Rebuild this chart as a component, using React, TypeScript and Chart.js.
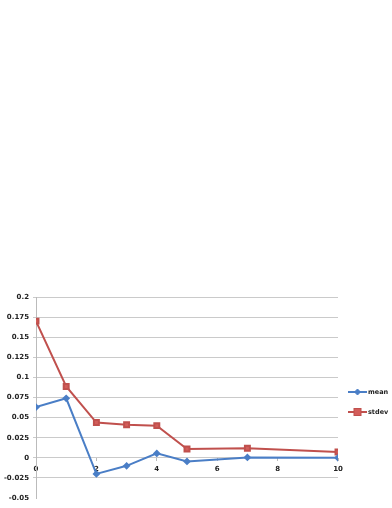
import React, { useEffect, useRef } from "react";
import { Chart, registerables } from "chart.js";

Chart.register(...registerables);

const xValues = [0, 1, 2, 3, 4, 5, 7, 10];
const meanValues = [0.063, 0.074, -0.02, -0.01, 0.0055, -0.0045, 0.0005, 0.0];
const stdevValues = [0.17, 0.0888, 0.0438, 0.041, 0.04, 0.011, 0.0118, 0.0072];
const seriesLabels = ["mean", "stdev"];

const BLUE = "#4A7EC6";
const RED = "#C0504D";
const FONT = "'DejaVu Sans', sans-serif";

const legendPlugin = {
  id: "customLegend",
  afterDraw(chart: any) {
    const ctx = chart.ctx;
    const left = chart.chartArea.right + 10;
    const ys = [392, 412];
    chart.data.datasets.forEach((ds: any, i: number) => {
      const y = ys[i];
      ctx.save();
      ctx.strokeStyle = ds.borderColor;
      ctx.lineWidth = 2;
      ctx.beginPath();
      ctx.moveTo(left, y);
      ctx.lineTo(left + 19, y);
      ctx.stroke();
      const cx = left + 9.5;
      ctx.fillStyle = ds.pointBackgroundColor;
      ctx.strokeStyle = ds.pointBorderColor;
      ctx.lineWidth = 1;
      if (ds.pointStyle === "rectRot") {
        ctx.beginPath();
        ctx.moveTo(cx, y - 3);
        ctx.lineTo(cx + 3, y);
        ctx.lineTo(cx, y + 3);
        ctx.lineTo(cx - 3, y);
        ctx.closePath();
        ctx.fill();
        ctx.stroke();
      } else {
        ctx.fillRect(cx - 3.5, y - 3.5, 7, 7);
        ctx.strokeRect(cx - 3.5, y - 3.5, 7, 7);
      }
      ctx.fillStyle = "#222";
      ctx.font = `bold 6.5px ${FONT}`;
      ctx.textBaseline = "middle";
      ctx.textAlign = "left";
      ctx.fillText(ds.label, left + 20, y);
      ctx.restore();
    });
  },
};

export default function App() {
  const ref = useRef<HTMLCanvasElement>(null);
  useEffect(() => {
    if (!ref.current) return;
    const chart = new Chart(ref.current, {
      type: "line",
      data: {
        datasets: [
          {
            label: seriesLabels[0],
            data: xValues.map((x, i) => ({ x, y: meanValues[i] })),
            borderColor: BLUE,
            backgroundColor: BLUE,
            pointBackgroundColor: BLUE,
            pointBorderColor: BLUE,
            pointStyle: "rectRot",
            pointRadius: 2.5,
            borderWidth: 2,
            tension: 0,
          },
          {
            label: seriesLabels[1],
            data: xValues.map((x, i) => ({ x, y: stdevValues[i] })),
            borderColor: RED,
            backgroundColor: RED,
            pointBackgroundColor: "#D35D5A",
            pointBorderColor: RED,
            pointStyle: "rect",
            pointRadius: 3.5,
            borderWidth: 2,
            tension: 0,
          },
        ],
      },
      options: {
        animation: false,
        responsive: true,
        maintainAspectRatio: false,
        layout: { padding: { top: 297, right: 54, bottom: 10, left: 0 } },
        plugins: { legend: { display: false }, tooltip: { enabled: false } },
        scales: {
          x: {
            type: "linear",
            position: { y: 0 } as any,
            min: 0,
            max: 10,
            ticks: {
              stepSize: 2,
              font: { family: FONT, size: 7, weight: "bold" },
              color: "#222",
              padding: 4,
              maxRotation: 0,
            },
            grid: { drawOnChartArea: false, tickLength: 3, color: "#bbb" },
            border: { display: false },
          },
          y: {
            min: -0.05,
            max: 0.2,
            ticks: {
              stepSize: 0.025,
              font: { family: FONT, size: 7, weight: "bold" },
              color: "#222",
              padding: 4,
              callback: (v: any) => String(Number(Number(v).toFixed(3))),
            },
            grid: {
              color: (c: any) =>
                c.tick && Math.abs(c.tick.value + 0.05) < 1e-6 ? "rgba(0,0,0,0)" : "#cacaca",
              tickLength: 3,
              lineWidth: 1,
            },
            border: { display: true, color: "#bbb" },
            afterFit: (s: any) => {
              s.width = 36;
            },
          },
        },
      },
      plugins: [legendPlugin],
    });
    return () => chart.destroy();
  }, []);
  return (
    <div style={{ position: "absolute", left: 0, top: 0, width: 392, height: 508 }}>
      <canvas ref={ref} />
    </div>
  );
}
